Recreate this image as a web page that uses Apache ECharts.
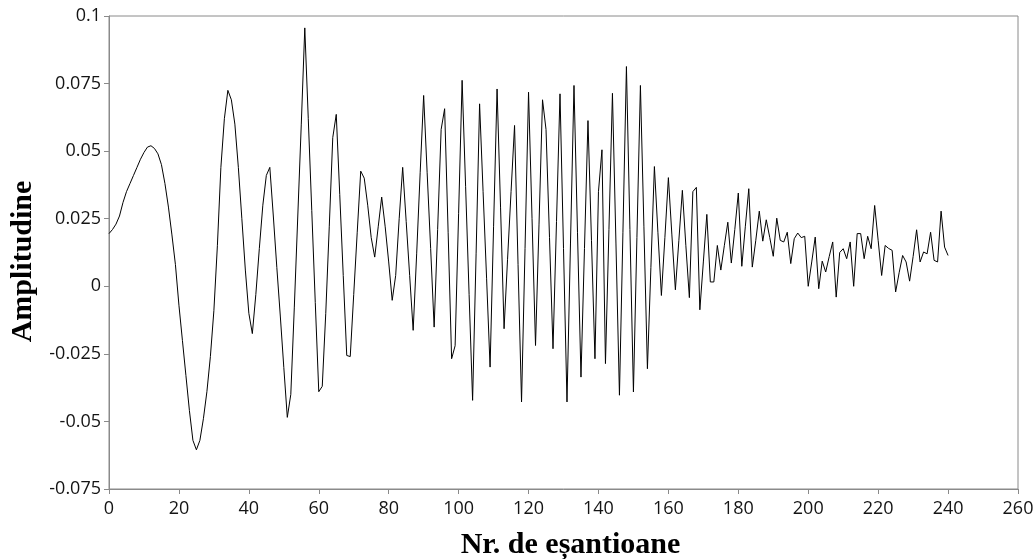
<!DOCTYPE html>
<html>
<head>
<meta charset="utf-8">
<script src="https://cdn.jsdelivr.net/npm/echarts@6/dist/echarts.min.js"></script>
<style>
  html, body { margin: 0; padding: 0; background: #ffffff; }
  #chart { width: 1034px; height: 559px; }
</style>
</head>
<body>
<div id="chart"></div>
<script>
// Signal amplitude for each sample number (0 .. 240)
const amplitude = [
  0.0195, 0.0210, 0.0230, 0.0260, 0.0310, 0.0350, 0.0380, 0.0410, 0.0440, 0.0470,
  0.0495, 0.0515, 0.0520, 0.0510, 0.0490, 0.0450, 0.0380, 0.0293, 0.0190, 0.0080,
  -0.0070, -0.0200, -0.0330, -0.0460, -0.0570, -0.0605, -0.0570, -0.0490, -0.0390, -0.0260,
  -0.0090, 0.0150, 0.0440, 0.0620, 0.0725, 0.0690, 0.0600, 0.0440, 0.0250, 0.0060,
  -0.0100, -0.0175, -0.0030, 0.0140, 0.0300, 0.0410, 0.0440, 0.0260, 0.0070, -0.0110,
  -0.0300, -0.0485, -0.0400, -0.0080, 0.0260, 0.0600, 0.0956, 0.0620, 0.0280, -0.0060,
  -0.0390, -0.0370, -0.0100, 0.0220, 0.0550, 0.0636, 0.0340, 0.0040, -0.0256, -0.0260,
  -0.0030, 0.0200, 0.0426, 0.0400, 0.0300, 0.0180, 0.0108, 0.0220, 0.0330, 0.0220,
  0.0090, -0.0052, 0.0040, 0.0250, 0.0440, 0.0240, 0.0040, -0.0163, 0.0120, 0.0420,
  0.0706, 0.0420, 0.0140, -0.0151, 0.0210, 0.0580, 0.0657, 0.0200, -0.0268, -0.0220,
  0.0270, 0.0762, 0.0370, -0.0030, -0.0422, 0.0120, 0.0675, 0.0350, 0.0030, -0.0299,
  0.0220, 0.0730, 0.0290, -0.0157, 0.0100, 0.0350, 0.0595, 0.0080, -0.0428, 0.0140,
  0.0718, 0.0250, -0.0219, 0.0230, 0.0690, 0.0580, 0.0180, -0.0231, 0.0240, 0.0712,
  0.0140, -0.0428, 0.0160, 0.0743, 0.0200, -0.0336, 0.0140, 0.0613, 0.0170, -0.0268,
  0.0350, 0.0505, -0.0286, 0.0210, 0.0714, 0.0160, -0.0403, 0.0200, 0.0813, 0.0210,
  -0.0391, 0.0180, 0.0743, 0.0220, -0.0305, 0.0070, 0.0443, 0.0200, -0.0034, 0.0180,
  0.0402, 0.0190, -0.0013, 0.0170, 0.0355, 0.0150, -0.0042, 0.0350, 0.0366, -0.0087,
  0.0090, 0.0266, 0.0016, 0.0016, 0.0151, 0.0060, 0.0150, 0.0237, 0.0086, 0.0210,
  0.0345, 0.0074, 0.0220, 0.0361, 0.0071, 0.0170, 0.0278, 0.0167, 0.0246, 0.0180,
  0.0111, 0.0252, 0.0170, 0.0164, 0.0200, 0.0084, 0.0176, 0.0197, 0.0180, 0.0185,
  0.0000, 0.0090, 0.0182, -0.0009, 0.0093, 0.0053, 0.0110, 0.0164, -0.0040, 0.0125,
  0.0139, 0.0102, 0.0164, 0.0000, 0.0195, 0.0195, 0.0102, 0.0185, 0.0139, 0.0299,
  0.0170, 0.0040, 0.0151, 0.0140, 0.0133, -0.0021, 0.0050, 0.0114, 0.0090, 0.0019,
  0.0110, 0.0209, 0.0090, 0.0127, 0.0120, 0.0200, 0.0096, 0.0090, 0.0278, 0.0145,
  0.0114
];

// Axis tick values
const xTickValues = [0, 20, 40, 60, 80, 100, 120, 140, 160, 180, 200, 220, 240, 260];
const yTickValues = [-0.075, -0.05, -0.025, 0, 0.025, 0.05, 0.075, 0.1];

const xAxisTitle = 'Nr. de eșantioane';
const yAxisTitle = 'Amplitudine';

const frameColor = '#8a8a8a';
const labelFont = {
  fontFamily: '"Open Sans", "Noto Sans", sans-serif',
  fontSize: 18,
  color: '#141414'
};
const titleFont = {
  fontFamily: '"Liberation Serif", "DejaVu Serif", serif',
  fontWeight: 'bold',
  fontSize: 30,
  color: '#000000'
};

const chart = echarts.init(document.getElementById('chart'), null, { renderer: 'canvas' });

chart.setOption({
  animation: false,
  backgroundColor: '#ffffff',
  grid: {
    left: 109, right: 16, top: 16, bottom: 70,
    show: true,
    borderColor: frameColor,
    borderWidth: 1,
    backgroundColor: 'transparent',
    containLabel: false,
    outerBoundsMode: 'none'
  },
  xAxis: {
    type: 'value',
    min: xTickValues[0],
    max: xTickValues[xTickValues.length - 1],
    interval: xTickValues[1] - xTickValues[0],
    name: xAxisTitle,
    nameLocation: 'middle',
    nameGap: 41,
    nameTextStyle: Object.assign({ padding: [0, 0, 0, 14] }, titleFont),
    axisLine: { show: true, onZero: false, lineStyle: { color: frameColor, width: 1 } },
    axisTick: { show: true, inside: false, length: 5, lineStyle: { color: frameColor, width: 1 } },
    axisLabel: Object.assign({ margin: 11 }, labelFont),
    splitLine: { show: false },
    minorTick: { show: false }
  },
  yAxis: {
    type: 'value',
    min: yTickValues[0],
    max: yTickValues[yTickValues.length - 1],
    interval: 0.025,
    name: yAxisTitle,
    nameLocation: 'middle',
    nameGap: 71,
    nameTextStyle: Object.assign({ padding: [0, 18, 0, 0] }, titleFont),
    axisLine: { show: true, onZero: false, lineStyle: { color: frameColor, width: 1 } },
    axisTick: { show: true, inside: false, length: 5, lineStyle: { color: frameColor, width: 1 } },
    axisLabel: Object.assign({
      margin: 8,
      formatter: function (v) { return String(parseFloat(v.toFixed(3))); }
    }, labelFont),
    splitLine: { show: false },
    minorTick: { show: false }
  },
  series: [{
    type: 'line',
    data: amplitude.map(function (v, i) { return [i, v]; }),
    showSymbol: false,
    symbol: 'none',
    smooth: false,
    lineStyle: { color: '#000000', width: 1 },
    emphasis: { disabled: true }
  }]
});
</script>
</body>
</html>
